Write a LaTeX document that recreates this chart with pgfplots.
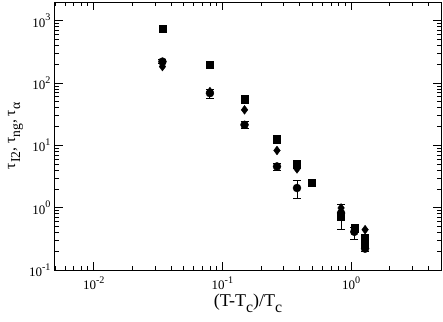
\documentclass[border=0pt]{standalone}
\usepackage{fontspec}
\setmainfont{Liberation Serif}
\usepackage{pgfplots}
\pgfplotsset{compat=1.18}
\newcommand{\sub}[1]{\raisebox{-0.32em}{\scalebox{0.88}{#1}}}
\newcommand{\tp}[1]{10\raisebox{0.5em}{\scalebox{0.78}{#1}}}

\begin{document}
\begin{tikzpicture}
\begin{axis}[
    scale only axis,
    width=386pt, height=268pt,
    xmode=log, ymode=log,
    xmin=0.005, xmax=5,
    ymin=0.1, ymax=2000,
    xtick={0.01,0.1,1},
    xticklabels={\tp{-2},\tp{-1},\tp{0}},
    ytick={0.1,1,10,100,1000},
    yticklabels={\tp{-1},\tp{0},\tp{1},\tp{2},\tp{3}},
    minor xtick={0.005,0.006,0.007,0.008,0.009,0.02,0.03,0.04,0.05,0.06,0.07,0.08,0.09,0.2,0.3,0.4,0.5,0.6,0.7,0.8,0.9,2,3,4,5},
    minor ytick={0.2,0.3,0.4,0.5,0.6,0.7,0.8,0.9,2,3,4,5,6,7,8,9,20,30,40,50,60,70,80,90,200,300,400,500,600,700,800,900,2000},
    tick align=inside,
    tick pos=both,
    major tick length=8pt,
    minor tick length=4pt,
    tick style={black, line width=0.8pt},
    axis line style={line width=1pt},
    tick label style={font=\fontsize{13}{14}\selectfont},
    xticklabel style={yshift=-3pt},
    yticklabel style={xshift=-1pt},
    xlabel={(T-T\sub{c})/T\sub{c}},
    ylabel={τ\sub{I2}, τ\sub{ng}, τ\sub{α}},
    xlabel style={font=\fontsize{18}{19}\selectfont, yshift=3pt},
    ylabel style={font=\fontsize{15.5}{17}\selectfont, yshift=-1pt},
    clip=false,
]
\addplot[only marks, mark=square*, mark size=3.6pt, black] coordinates {
    (0.0342,739) (0.080,196) (0.1486,55.2) (0.2656,12.6) (0.380,5.0)
    (0.494,2.54) (0.836,0.73) (1.06,0.47) (1.285,0.334) (1.285,0.255)
};
\addplot[only marks, mark=diamond*, mark size=4.4pt, black] coordinates {
    (0.0342,184) (0.080,73) (0.1486,37.2) (0.2656,8.28) (0.380,4.2)
    (0.836,0.99) (1.06,0.45) (1.285,0.444)
};
\addplot[only marks, mark=*, mark size=4pt, black,
    error bars/.cd, y dir=both, y explicit,
    error bar style={line width=0.9pt, black},
    error mark options={rotate=90, mark size=4pt, line width=0.9pt, black}]
    coordinates {
    (0.0342,221) += (0,18) -= (0,15)
    (0.080,69) += (0,10) -= (0,13)
    (0.1486,21.4) += (0,2.5) -= (0,2.5)
    (0.2656,4.59) += (0,0.6) -= (0,0.6)
    (0.380,2.07) += (0,0.64) -= (0,0.64)
    (0.836,0.82) += (0,0.30) -= (0,0.38)
    (1.06,0.41) += (0,0.08) -= (0,0.10)
    (1.285,0.22) += (0,0.03) -= (0,0.025)
};
\end{axis}
\pgfresetboundingbox
\path (-55pt,-51pt) rectangle (388pt,270pt);
\end{tikzpicture}
\end{document}
